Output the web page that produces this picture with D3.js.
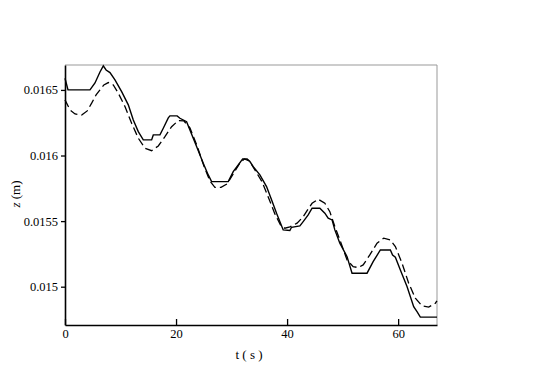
<!DOCTYPE html>
<html><head><meta charset="utf-8">
<script src="https://cdn.jsdelivr.net/npm/d3@7/dist/d3.min.js"></script>
<style>body{margin:0;background:#fff}svg{display:block}</style>
</head><body><div id="chart"></div>
<script>
const solidT = [0,0.54,4.5,5.4,6.3,6.9,7.4,8.1,9.0,10.2,11.4,12.3,13.2,14.1,15.6,15.9,17.1,17.7,18.6,18.9,20.2,20.7,21.9,22.5,23.7,24.9,25.8,26.4,29.4,30.3,31.2,32.0,32.8,33.3,33.9,35.1,36.3,37.2,38.1,39.3,40.5,40.8,42.3,42.9,43.8,44.5,45.9,46.8,47.4,48.1,48.6,49.5,50.8,51.7,54.4,55.5,56.8,58.6,59.0,59.5,60.4,61.6,62.8,63.4,64.0,67.0];
const solidZ = [0.016589,0.0165,0.0165,0.016553,0.016637,0.016683,0.016652,0.016632,0.016576,0.016487,0.016386,0.016271,0.016182,0.016119,0.016119,0.016157,0.016157,0.016208,0.016287,0.016302,0.016302,0.016284,0.016258,0.016195,0.016068,0.015941,0.015852,0.015801,0.015801,0.015877,0.015928,0.015974,0.015974,0.015954,0.015915,0.015852,0.015763,0.015662,0.015560,0.015433,0.015428,0.015453,0.015463,0.015496,0.015547,0.015598,0.015598,0.015560,0.015522,0.015509,0.015433,0.015332,0.015229,0.015103,0.015103,0.015191,0.015280,0.015280,0.015242,0.015225,0.015128,0.015001,0.014848,0.014810,0.014768,0.014768];
const dashT = [0,0.9,1.8,3.0,4.0,4.8,5.6,6.3,7.0,7.8,8.7,9.6,10.8,12.0,13.2,14.4,15.6,16.8,18.0,19.2,20.4,21.4,22.5,23.8,25.0,26.1,27.0,28.1,29.2,30.3,31.4,32.3,33.2,34.2,35.5,36.6,37.8,38.9,39.6,40.5,41.8,42.9,43.8,44.5,45.6,46.8,47.7,48.6,49.5,50.8,51.9,52.8,53.7,54.9,56.2,57.4,58.6,59.5,60.7,61.9,63.1,64.3,65.5,66.7,67.0];
const dashZ = [0.016424,0.016348,0.016317,0.016309,0.016340,0.016399,0.016462,0.0165,0.016538,0.016556,0.016538,0.016475,0.016373,0.016246,0.016132,0.016056,0.016037,0.016073,0.016144,0.016220,0.016266,0.016264,0.016210,0.016073,0.015921,0.015806,0.015757,0.015757,0.015784,0.015860,0.015936,0.015974,0.015959,0.015890,0.015799,0.015684,0.015555,0.015463,0.015446,0.015456,0.015484,0.015534,0.015593,0.015636,0.015667,0.015636,0.015572,0.015458,0.015357,0.015204,0.015153,0.015146,0.015166,0.015242,0.015332,0.015370,0.015357,0.015306,0.015179,0.015027,0.014912,0.014854,0.014844,0.014874,0.014892];
const xTicks = [0,20,40,60];
const yTicks = [0.015,0.0155,0.016,0.0165];
const yTickLabels = ["0.015","0.0155","0.016","0.0165"];

const W=536,H=382;
const L=65,R=437,T=65,B=325;
const svg=d3.select("#chart").append("svg").attr("width",W).attr("height",H);
const x=d3.scaleLinear().domain([0,67]).range([L,R]);
const y=d3.scaleLinear().domain([0.014708,0.016690]).range([B,T]);
const font="'Liberation Serif', 'Times New Roman', Times, serif";

// frame top/right (grey)
svg.append("line").attr("x1",L).attr("x2",R).attr("y1",T).attr("y2",T).attr("stroke","#999").attr("stroke-width",1);
svg.append("line").attr("x1",R).attr("x2",R).attr("y1",T).attr("y2",B).attr("stroke","#999").attr("stroke-width",1);

const line=d3.line().x(d=>x(d[0])).y(d=>y(d[1]));
svg.append("path").datum(dashT.map((t,i)=>[t,dashZ[i]])).attr("d",line)
  .attr("fill","none").attr("stroke","#000").attr("stroke-width",1.3).attr("stroke-dasharray","8,4");
svg.append("path").datum(solidT.map((t,i)=>[t,solidZ[i]])).attr("d",line)
  .attr("fill","none").attr("stroke","#000").attr("stroke-width",1.4);

// axes
const xa=svg.append("g").attr("transform",`translate(0,${B})`)
  .call(d3.axisBottom(x).tickValues(xTicks).tickSizeInner(-6).tickSizeOuter(0).tickPadding(4).tickFormat(d3.format("d")));
const ya=svg.append("g").attr("transform",`translate(${L},0)`)
  .call(d3.axisLeft(y).tickValues(yTicks).tickSizeInner(4).tickSizeOuter(0).tickPadding(3).tickFormat((d,i)=>yTickLabels[i]));
[xa,ya].forEach(g=>{
  g.attr("font-family",null);
  g.select(".domain").attr("stroke","#000").attr("stroke-width",1.6);
  g.selectAll(".tick line").attr("stroke","#000").attr("stroke-width",1.3);
  g.selectAll("text").style("font-family",font).style("font-size","12.5px").attr("fill","#000");
});

svg.append("text").attr("x",249).attr("y",359).attr("text-anchor","middle")
  .style("font-family",font).style("font-size","13px").text("t ( s )");
const yl=svg.append("text").attr("transform",`translate(20,194) rotate(-90)`)
  .attr("text-anchor","middle").style("font-family",font).style("font-size","13px");
yl.append("tspan").attr("font-style","italic").text("z");
yl.append("tspan").text(" (m)");
</script></body></html>
